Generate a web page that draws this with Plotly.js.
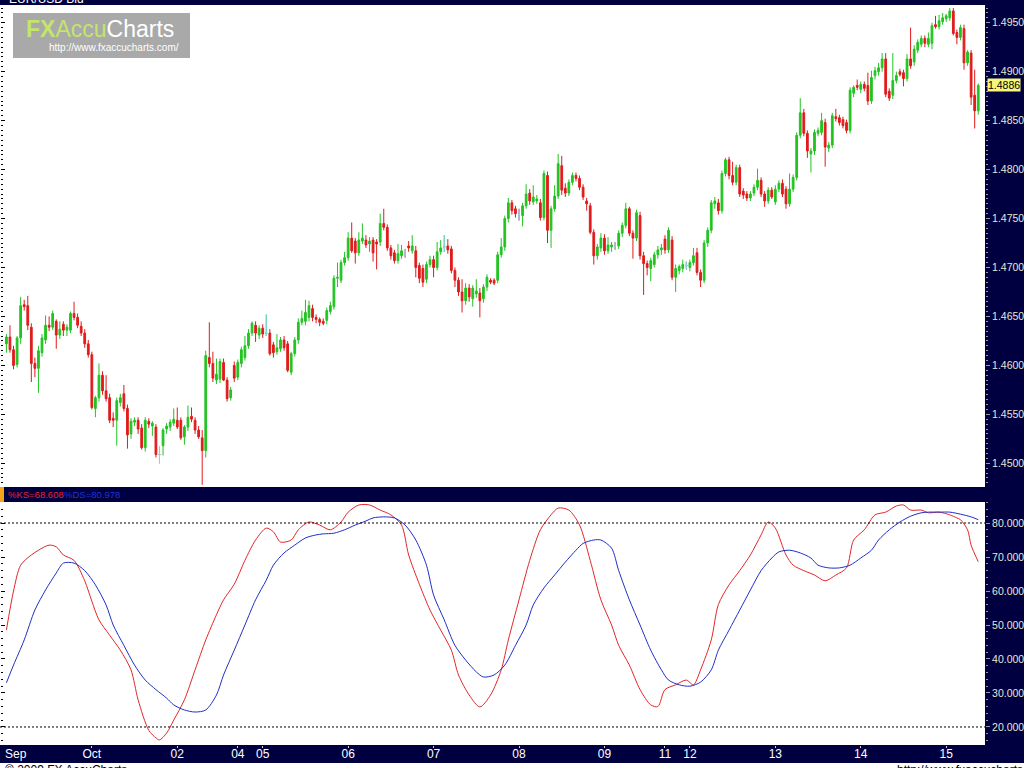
<!DOCTYPE html>
<html><head><meta charset="utf-8">
<script src="https://cdn.plot.ly/plotly-3.0.1.min.js"></script>
<style>html,body{margin:0;padding:0;background:#fff;overflow:hidden}#chart{width:1024px;height:768px}</style>
</head><body><div id="chart"></div>
<script>
// ---- data (hourly EUR/USD bid bars, Sep 30 - Oct 15) ----
const dayTickIdx  = [24, 48, 65, 72, 96, 120, 144, 168, 185, 192, 216, 240, 264];
const dayTickText = ['Oct','02','04','05','06','07','08','09','11','12','13','14','15'];

const open = [
 1.4622,1.4629,1.4616,1.4601,1.4628,1.4662,1.4661,1.4639,1.4602,1.4597,1.4613,1.4626,1.4641,1.4639,1.4645,1.4631,1.4642,1.4636,1.4636,1.4653,1.4649,1.4640,1.4633,1.4622,
 1.4611,1.4556,1.4567,1.4590,1.4574,1.4567,1.4546,1.4544,1.4562,1.4571,1.4556,1.4530,1.4542,1.4544,1.4536,1.4516,1.4543,1.4538,1.4537,1.4509,1.4518,1.4535,1.4537,1.4541,
 1.4544,1.4544,1.4527,1.4537,1.4548,1.4544,1.4534,1.4526,1.4513,1.4608,1.4602,1.4585,1.4586,1.4603,1.4585,1.4567,1.4600,
 1.4588,1.4602,1.4608,1.4620,1.4633,1.4641,1.4631,
 1.4638,1.4633,1.4633,1.4621,1.4614,1.4617,1.4626,1.4622,1.4593,1.4612,1.4626,1.4644,1.4645,1.4649,1.4658,1.4649,1.4647,1.4645,1.4646,1.4655,1.4660,1.4689,1.4687,1.4705,
 1.4710,1.4730,1.4727,1.4715,1.4727,1.4728,1.4724,1.4728,1.4726,1.4726,1.4745,1.4741,1.4720,1.4715,1.4707,1.4712,1.4714,1.4722,1.4717,1.4717,1.4702,1.4699,1.4688,1.4703,
 1.4708,1.4700,1.4716,1.4721,1.4722,1.4719,1.4697,1.4687,1.4675,1.4666,1.4679,1.4668,1.4673,1.4674,1.4668,1.4680,1.4687,1.4687,1.4687,1.4713,1.4721,1.4750,1.4766,1.4760,
 1.4754,1.4753,1.4763,1.4776,1.4767,1.4768,1.4766,1.4751,1.4794,1.4738,1.4760,1.4773,1.4804,1.4781,1.4776,1.4787,1.4794,1.4791,1.4782,1.4768,1.4763,1.4736,1.4712,1.4720,
 1.4730,1.4717,1.4721,1.4722,1.4722,1.4735,1.4743,1.4760,1.4735,1.4730,1.4753,1.4712,1.4704,1.4699,1.4703,1.4713,1.4718,
 1.4729,1.4718,1.4728,1.4690,1.4697,1.4699,1.4702,
 1.4700,1.4705,1.4715,1.4695,1.4687,1.4725,1.4738,1.4765,1.4766,1.4758,1.4796,1.4810,1.4794,1.4787,1.4802,1.4778,1.4775,1.4771,1.4776,1.4782,1.4789,1.4775,1.4768,1.4779,
 1.4767,1.4780,1.4786,1.4780,1.4765,1.4780,1.4792,1.4835,1.4858,1.4837,1.4816,1.4819,1.4837,1.4838,1.4848,1.4822,1.4825,1.4854,1.4853,1.4851,1.4848,1.4840,1.4878,1.4886,
 1.4882,1.4887,1.4886,1.4870,1.4896,1.4900,1.4904,1.4913,1.4880,1.4876,1.4891,1.4900,1.4899,1.4893,1.4913,1.4910,1.4922,1.4928,1.4934,1.4928,1.4929,1.4948,1.4946,1.4951,
 1.4954,1.4955,1.4962,1.4940,1.4935,1.4944,1.4909,1.4919,1.4876,1.4860
];
const high = [
 1.4632,1.4641,1.4620,1.4630,1.4670,1.4667,1.4671,1.4643,1.4608,1.4620,1.4632,1.4651,1.4650,1.4656,1.4647,1.4645,1.4645,1.4642,1.4655,1.4665,1.4653,1.4645,1.4637,1.4626,
 1.4614,1.4569,1.4602,1.4594,1.4590,1.4571,1.4552,1.4567,1.4571,1.4580,1.4560,1.4546,1.4547,1.4547,1.4540,1.4547,1.4546,1.4543,1.4540,1.4517,1.4536,1.4541,1.4545,1.4556,
 1.4557,1.4547,1.4539,1.4559,1.4557,1.4547,1.4538,1.4534,1.4615,1.4644,1.4614,1.4607,1.4607,1.4607,1.4588,1.4578,1.4604,
 1.4606,1.4619,1.4630,1.4637,1.4645,1.4645,1.4641,
 1.4642,1.4652,1.4637,1.4624,1.4632,1.4629,1.4630,1.4625,1.4614,1.4629,1.4648,1.4656,1.4667,1.4666,1.4662,1.4652,1.4649,1.4648,1.4659,1.4665,1.4692,1.4705,1.4708,1.4716,
 1.4736,1.4746,1.4730,1.4736,1.4745,1.4733,1.4731,1.4731,1.4729,1.4755,1.4760,1.4744,1.4723,1.4718,1.4724,1.4723,1.4719,1.4727,1.4733,1.4722,1.4705,1.4703,1.4706,1.4712,
 1.4712,1.4726,1.4728,1.4733,1.4729,1.4722,1.4700,1.4690,1.4688,1.4684,1.4683,1.4682,1.4688,1.4679,1.4683,1.4693,1.4689,1.4689,1.4716,1.4730,1.4753,1.4771,1.4769,1.4763,
 1.4760,1.4766,1.4785,1.4780,1.4784,1.4774,1.4770,1.4799,1.4798,1.4763,1.4784,1.4816,1.4814,1.4786,1.4790,1.4797,1.4797,1.4794,1.4785,1.4771,1.4766,1.4739,1.4724,1.4735,
 1.4734,1.4731,1.4726,1.4726,1.4738,1.4746,1.4766,1.4762,1.4738,1.4759,1.4757,1.4716,1.4707,1.4710,1.4716,1.4722,1.4724,
 1.4733,1.4741,1.4732,1.4703,1.4703,1.4708,1.4706,
 1.4708,1.4720,1.4720,1.4698,1.4728,1.4741,1.4769,1.4772,1.4770,1.4799,1.4812,1.4813,1.4808,1.4805,1.4805,1.4781,1.4778,1.4778,1.4785,1.4801,1.4792,1.4778,1.4782,1.4782,
 1.4784,1.4789,1.4790,1.4783,1.4796,1.4795,1.4838,1.4873,1.4862,1.4840,1.4822,1.4841,1.4843,1.4858,1.4852,1.4828,1.4858,1.4862,1.4856,1.4854,1.4851,1.4884,1.4886,1.4892,
 1.4890,1.4890,1.4899,1.4901,1.4905,1.4909,1.4919,1.4919,1.4883,1.4919,1.4900,1.4903,1.4902,1.4918,1.4945,1.4927,1.4933,1.4937,1.4937,1.4940,1.4950,1.4957,1.4958,1.4960,
 1.4959,1.4965,1.4965,1.4943,1.4948,1.4948,1.4922,1.4922,1.4902,1.4888
];
const low = [
 1.4613,1.4613,1.4596,1.4598,1.4622,1.4656,1.4636,1.4583,1.4588,1.4572,1.4609,1.4622,1.4635,1.4636,1.4617,1.4627,1.4630,1.4630,1.4633,1.4646,1.4638,1.4630,1.4618,1.4608,
 1.4555,1.4547,1.4563,1.4570,1.4563,1.4541,1.4537,1.4518,1.4558,1.4553,1.4515,1.4525,1.4538,1.4530,1.4514,1.4512,1.4536,1.4528,1.4506,1.4500,1.4508,1.4530,1.4533,1.4538,
 1.4535,1.4524,1.4519,1.4533,1.4542,1.4530,1.4525,1.4478,1.4506,1.4598,1.4583,1.4581,1.4582,1.4584,1.4563,1.4564,1.4583,
 1.4585,1.4598,1.4605,1.4617,1.4630,1.4624,1.4627,
 1.4628,1.4630,1.4610,1.4608,1.4611,1.4614,1.4615,1.4593,1.4590,1.4609,1.4622,1.4641,1.4641,1.4645,1.4645,1.4643,1.4640,1.4641,1.4642,1.4652,1.4657,1.4680,1.4684,1.4702,
 1.4707,1.4715,1.4704,1.4712,1.4724,1.4720,1.4716,1.4706,1.4698,1.4722,1.4738,1.4717,1.4708,1.4704,1.4704,1.4709,1.4710,1.4716,1.4714,1.4690,1.4684,1.4680,1.4684,1.4700,
 1.4690,1.4697,1.4713,1.4716,1.4714,1.4694,1.4680,1.4671,1.4654,1.4662,1.4665,1.4660,1.4669,1.4649,1.4664,1.4676,1.4683,1.4682,1.4684,1.4710,1.4717,1.4746,1.4754,1.4751,
 1.4748,1.4742,1.4760,1.4764,1.4764,1.4765,1.4748,1.4748,1.4725,1.4720,1.4757,1.4770,1.4774,1.4772,1.4773,1.4784,1.4788,1.4779,1.4769,1.4758,1.4734,1.4703,1.4708,1.4716,
 1.4713,1.4714,1.4716,1.4718,1.4719,1.4731,1.4740,1.4732,1.4709,1.4727,1.4708,1.4672,1.4692,1.4686,1.4700,1.4709,1.4713,
 1.4714,1.4715,1.4687,1.4675,1.4693,1.4695,1.4698,
 1.4696,1.4702,1.4692,1.4680,1.4684,1.4721,1.4735,1.4760,1.4754,1.4755,1.4793,1.4790,1.4784,1.4784,1.4772,1.4770,1.4768,1.4768,1.4773,1.4779,1.4772,1.4762,1.4765,1.4770,
 1.4764,1.4777,1.4772,1.4760,1.4762,1.4777,1.4789,1.4832,1.4834,1.4812,1.4797,1.4815,1.4834,1.4835,1.4803,1.4818,1.4822,1.4849,1.4845,1.4842,1.4837,1.4837,1.4874,1.4881,
 1.4878,1.4880,1.4866,1.4867,1.4892,1.4896,1.4900,1.4874,1.4870,1.4872,1.4888,1.4895,1.4885,1.4890,1.4903,1.4906,1.4919,1.4925,1.4925,1.4925,1.4923,1.4944,1.4943,1.4948,
 1.4951,1.4952,1.4937,1.4928,1.4932,1.4902,1.4906,1.4866,1.4842,1.4856
];
const close = [
 1.4629,1.4616,1.4600,1.4628,1.4661,1.4660,1.4641,1.4602,1.4597,1.4615,1.4628,1.4641,1.4639,1.4653,1.4631,1.4637,1.4636,1.4639,1.4653,1.4649,1.4641,1.4633,1.4622,1.4611,
 1.4557,1.4567,1.4590,1.4574,1.4566,1.4544,1.4544,1.4564,1.4567,1.4556,1.4529,1.4543,1.4544,1.4535,1.4516,1.4544,1.4540,1.4541,1.4509,1.4509,1.4534,1.4538,1.4542,1.4545,
 1.4537,1.4526,1.4537,1.4547,1.4545,1.4534,1.4527,1.4513,1.4610,1.4602,1.4587,1.4591,1.4604,1.4585,1.4566,1.4575,1.4587,
 1.4603,1.4616,1.4620,1.4633,1.4643,1.4633,1.4638,
 1.4632,1.4633,1.4612,1.4613,1.4618,1.4626,1.4618,1.4595,1.4612,1.4626,1.4644,1.4648,1.4654,1.4661,1.4649,1.4647,1.4644,1.4643,1.4656,1.4661,1.4689,1.4690,1.4705,1.4710,
 1.4730,1.4717,1.4715,1.4728,1.4730,1.4723,1.4727,1.4715,1.4724,1.4745,1.4741,1.4720,1.4712,1.4707,1.4714,1.4717,1.4714,1.4720,1.4722,1.4700,1.4689,1.4685,1.4703,1.4708,
 1.4700,1.4716,1.4720,1.4721,1.4718,1.4697,1.4687,1.4675,1.4666,1.4679,1.4670,1.4679,1.4676,1.4666,1.4680,1.4690,1.4685,1.4684,1.4713,1.4721,1.4750,1.4766,1.4758,1.4755,
 1.4754,1.4763,1.4775,1.4768,1.4772,1.4770,1.4751,1.4796,1.4738,1.4760,1.4773,1.4806,1.4779,1.4776,1.4787,1.4794,1.4791,1.4782,1.4772,1.4765,1.4736,1.4712,1.4721,1.4730,
 1.4717,1.4723,1.4723,1.4722,1.4735,1.4743,1.4760,1.4735,1.4730,1.4756,1.4712,1.4704,1.4700,1.4707,1.4713,1.4718,1.4720,
 1.4718,1.4738,1.4690,1.4699,1.4701,1.4703,1.4702,
 1.4705,1.4712,1.4695,1.4687,1.4725,1.4738,1.4766,1.4768,1.4758,1.4796,1.4810,1.4794,1.4787,1.4802,1.4775,1.4774,1.4771,1.4775,1.4782,1.4789,1.4775,1.4768,1.4779,1.4772,
 1.4780,1.4786,1.4775,1.4765,1.4780,1.4792,1.4835,1.4858,1.4837,1.4819,1.4819,1.4838,1.4840,1.4850,1.4823,1.4825,1.4855,1.4852,1.4848,1.4845,1.4840,1.4881,1.4884,1.4884,
 1.4887,1.4883,1.4870,1.4894,1.4901,1.4904,1.4913,1.4877,1.4873,1.4891,1.4896,1.4897,1.4893,1.4913,1.4906,1.4923,1.4930,1.4934,1.4929,1.4934,1.4947,1.4946,1.4952,1.4955,
 1.4957,1.4962,1.4939,1.4935,1.4945,1.4909,1.4920,1.4874,1.4860,1.4886
];

// Slow stochastic (bar index, value)
const kIdx = [0,2,4,7,9,12,14,16,19,22,24,26,29,32,35,37,40,42,43,45,47,50,53,56,59,61,64,67,70,73,75,77,80,82,85,88,91,94,96,99,102,105,108,111,113,116,119,122,125,127,130,133,136,139,141,144,147,150,153,155,158,161,164,167,170,172,175,178,181,183,185,188,191,193,195,198,200,203,206,209,212,214,216,219,221,224,227,230,233,236,238,241,244,247,250,252,254,257,259,262,265,267,268,270,271,273];
const kVal = [48.5,60,67.6,70.6,72,73.5,73,70.6,69,63,57,51.5,47,42.6,36.8,28,19,16.8,16.2,18.2,22,28,36.8,45.6,53,57.4,62,69,75,78.5,77.4,74.4,75,78,80.3,79.4,78,80.3,83.2,85.3,85.3,83.8,82.4,79.4,70.6,62,54.4,48.5,42.6,35.3,29.4,25.9,29.4,36.8,45.6,57.4,69,78,82.4,84.4,83.8,79.4,69,57.4,50,44,38.2,31,26.5,26,31,32.4,33.8,32.4,36.8,45.6,56,61.8,66,70.6,76.5,80.3,78.5,70.6,67.6,66,64.7,63,64.7,66.8,75,78,82.4,83.2,85,85.3,83.8,83.8,83,83.2,82.4,81.5,81,78,73.5,68.608];
const dIdx = [0,2,5,8,11,14,16,19,22,25,28,30,33,36,39,42,45,47,50,53,56,59,61,64,67,70,73,75,78,81,84,87,89,92,95,98,101,103,106,109,112,115,118,120,123,126,129,132,134,137,140,143,146,148,151,154,157,160,162,165,167,170,172,175,178,181,184,186,189,192,195,198,200,203,206,209,212,215,217,220,223,226,228,231,234,237,240,243,245,248,251,254,257,259,262,265,268,271,273];
const dVal = [33,38.2,45.6,54.4,60.3,65.3,68.2,68.2,66,61.8,55.9,50,44,38.2,33.8,31,28.5,26.5,25,24.4,25,29.4,35.3,42.6,50,57.4,63.2,67.6,71.2,73.5,75.6,76.5,76.8,77,78,79.4,80.6,81.5,81.8,81.5,79.4,75,67.6,58.8,51.5,44,39.7,36.2,34.7,35.3,38.2,44,50,55.9,60.9,64.7,68.5,72,74,75,75,72.6,66,57.4,50,42.6,36.8,33.8,32.4,32,33.2,36.8,42.6,48.5,54.4,60.3,66,69.7,71.5,72,71.2,69.7,67.6,66.8,66.8,67.6,69.7,72,75,78,80.3,82,83,83.2,83.2,83.2,82.6,81.8,80.978];

const lastPrice = 1.4886;
const overbought = 80, oversold = 20;

// ---- build traces ----
const bars = open.map((_, i) => i);
const dojiIdx = bars.filter(i => open[i] === close[i]);

const NAVY = '#000040';
const FONT = 'Liberation Sans, Arial, sans-serif';
const GREEN = '#22c322', RED = '#e01b1b';
const PRICE_RANGE = [1.44758, 1.49681];
const STOCH_RANGE = [14.7, 86.18];

const traces = [
  {type:'candlestick', x:bars, open:open, high:high, low:low, close:close, xaxis:'x', yaxis:'y',
   increasing:{line:{color:GREEN, width:1}, fillcolor:GREEN},
   decreasing:{line:{color:RED, width:1}, fillcolor:RED},
   whiskerwidth:0, hoverinfo:'skip'},
  {type:'candlestick', x:dojiIdx, open:dojiIdx.map(i=>open[i]), high:dojiIdx.map(i=>high[i]),
   low:dojiIdx.map(i=>low[i]), close:dojiIdx.map(i=>close[i]), xaxis:'x', yaxis:'y',
   increasing:{line:{color:'#7fdcee', width:1}, fillcolor:'#7fdcee'},
   decreasing:{line:{color:'#7fdcee', width:1}, fillcolor:'#7fdcee'},
   whiskerwidth:0, hoverinfo:'skip'},
  {type:'scatter', mode:'lines', x:kIdx, y:kVal, xaxis:'x', yaxis:'y2',
   line:{color:'#e3262a', width:1, shape:'spline', smoothing:0.8}, hoverinfo:'skip'},
  {type:'scatter', mode:'lines', x:dIdx, y:dVal, xaxis:'x', yaxis:'y2',
   line:{color:'#1f2fc8', width:1, shape:'spline', smoothing:0.8}, hoverinfo:'skip'},
  // invisible anchors for the left-edge tick strips
  {type:'scatter', mode:'markers', x:[0], y:[lastPrice], xaxis:'x', yaxis:'y3',
   marker:{opacity:0}, hoverinfo:'skip'},
  {type:'scatter', mode:'markers', x:[0], y:[50], xaxis:'x', yaxis:'y4',
   marker:{opacity:0}, hoverinfo:'skip'}
];

// pixel helpers for paper coordinates (plot area: x 0..985, y 5..745)
const PW = 985, PT = 5, PB = 745, PH = PB - PT;
const px = p => p / PW;
const py = p => (PB - p) / PH;

const rightAxis = (extra) => Object.assign({
  side:'right', anchor:'x',
  tickfont:{color:'#e6e6d2', size:10.5, family:FONT},
  ticks:'outside', ticklen:4, tickcolor:'#9a9a9a',
  showgrid:false, zeroline:false, showline:false, fixedrange:true}, extra);
const leftStrip = (extra) => Object.assign({
  side:'left', anchor:'free', position:0, showticklabels:false,
  ticks:'inside', ticklen:4, tickcolor:'#000000',
  showgrid:false, zeroline:false, showline:false, fixedrange:true}, extra);

const layout = {
  width:1024, height:768,
  margin:{l:0, r:39, t:5, b:23, pad:0},
  paper_bgcolor:NAVY, plot_bgcolor:'#ffffff',
  showlegend:false,
  font:{family:FONT},
  xaxis:{domain:[0,1], range:[-1.8, 274.9], anchor:'y2',
    tickmode:'array', tickvals:dayTickIdx, ticktext:dayTickText,
    tickfont:{color:'#ffffff', size:12, family:FONT},
    ticks:'outside', ticklen:2, tickcolor:'#cfcfcf', ticklabelstandoff:-4,
    showgrid:false, zeroline:false, showline:false,
    rangeslider:{visible:false}, fixedrange:true},
  yaxis: rightAxis({domain:[py(487), 1], range:PRICE_RANGE,
    tick0:1.45, dtick:0.005, tickformat:'.4f',
    minor:{dtick:0.0005, ticks:'outside', ticklen:2, tickcolor:'#9a9a9a'}}),
  yaxis2: rightAxis({domain:[0, py(502)], range:STOCH_RANGE,
    tick0:20, dtick:10, tickformat:'.3f',
    minor:{dtick:2, ticks:'outside', ticklen:2, tickcolor:'#9a9a9a'}}),
  yaxis3: leftStrip({overlaying:'y', range:PRICE_RANGE, tick0:1.45, dtick:0.005,
    minor:{dtick:0.0005, ticks:'inside', ticklen:2, tickcolor:'#000000'}}),
  yaxis4: leftStrip({overlaying:'y2', range:STOCH_RANGE, tick0:20, dtick:10,
    minor:{dtick:2, ticks:'inside', ticklen:2, tickcolor:'#000000'}}),
  shapes:[
    {type:'line', xref:'paper', yref:'y2', x0:0, x1:1, y0:overbought, y1:overbought,
     line:{color:'#000', width:1, dash:'2px,2px'}},
    {type:'line', xref:'paper', yref:'y2', x0:0, x1:1, y0:oversold, y1:oversold,
     line:{color:'#000', width:1, dash:'2px,2px'}},
    {type:'rect', xref:'paper', yref:'paper', x0:px(13), x1:px(190), y0:py(58), y1:py(13),
     fillcolor:'#a9a9a9', line:{width:0}, layer:'above'},
    {type:'rect', xref:'paper', yref:'paper', x0:0, x1:px(4), y0:py(502), y1:py(487),
     fillcolor:'#f7a21b', line:{width:0}},
    {type:'rect', xref:'paper', yref:'paper', x0:-0.01, x1:1.05, y0:py(775), y1:py(763),
     fillcolor:'#ffffff', line:{width:0}}
  ],
  annotations:[
    {xref:'paper', yref:'paper', x:px(7), y:py(-1), xanchor:'left', yanchor:'middle',
     text:'EUR/USD Bid', showarrow:false, font:{color:'#ffffff', size:12, family:FONT}},
    {xref:'paper', yref:'paper', x:px(100), y:py(29), xanchor:'center', yanchor:'middle',
     text:'<span style="color:#c4e46a"><b>FX</b>Accu</span><span style="color:#ffffff">Charts</span>',
     showarrow:false, font:{size:23, family:FONT}},
    {xref:'paper', yref:'paper', x:px(114), y:py(47.5), xanchor:'center', yanchor:'middle',
     text:'http://www.fxaccucharts.com/', showarrow:false, font:{color:'#ffffff', size:10, family:FONT}},
    {xref:'paper', yref:'y', x:px(987), y:lastPrice, xanchor:'left', yanchor:'middle',
     text:lastPrice.toFixed(4), showarrow:false, bgcolor:'#f6f67a', borderpad:0,
     font:{color:'#000000', size:10.5, family:FONT}},
    {xref:'paper', yref:'paper', x:px(6), y:py(494.5), xanchor:'left', yanchor:'middle',
     text:'%KS=' + kVal[kVal.length-1].toFixed(3), showarrow:false, font:{color:'#e3262a', size:9.5, family:FONT}},
    {xref:'paper', yref:'paper', x:px(62), y:py(494.5), xanchor:'left', yanchor:'middle',
     text:'%DS=' + dVal[dVal.length-1].toFixed(3), showarrow:false, font:{color:'#2233d0', size:9.5, family:FONT}},
    {xref:'paper', yref:'paper', x:px(3), y:py(754), xanchor:'left', yanchor:'middle',
     text:'Sep', showarrow:false, font:{color:'#ffffff', size:12, family:FONT}},
    {xref:'paper', yref:'paper', x:px(3), y:py(770), xanchor:'left', yanchor:'middle',
     text:'© 2009 FX AccuCharts', showarrow:false, font:{color:'#000000', size:12, family:FONT}},
    {xref:'paper', yref:'paper', x:px(895), y:py(770), xanchor:'left', yanchor:'middle',
     text:'http://www.fxaccucharts.com', showarrow:false, font:{color:'#000000', size:12, family:FONT}}
  ]
};

Plotly.newPlot('chart', traces, layout, {displayModeBar:false, staticPlot:true});
</script>
</body></html>
